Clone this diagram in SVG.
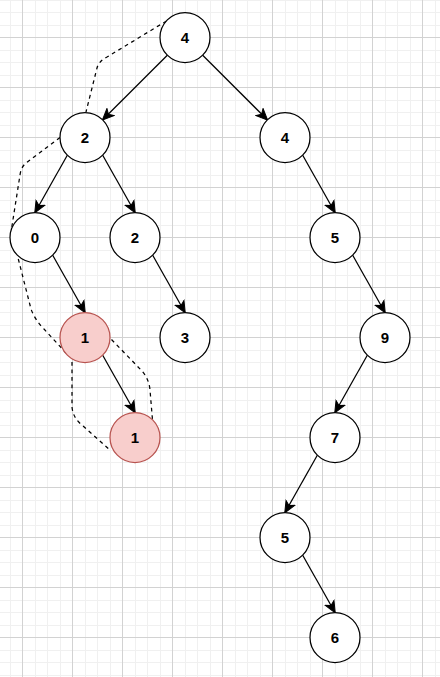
<svg xmlns="http://www.w3.org/2000/svg" width="440" height="677" viewBox="0 0 440 677">
  <style>
    .minor { stroke: #f0f0f0; stroke-width: 1; fill: none; shape-rendering: crispEdges; }
    .major { stroke: #d2d2d2; stroke-width: 1; fill: none; shape-rendering: crispEdges; }
    .node circle { fill: #ffffff; stroke: #000000; stroke-width: 1.25; }
    .node.red circle { fill: #f8cecc; stroke: #b85450; }
    .node text { font-family: "Liberation Sans", Arial, sans-serif; font-size: 15px; font-weight: bold; fill: #000000; text-anchor: middle; }
    .edge { stroke: #000000; stroke-width: 1.25; fill: none; marker-end: url(#arrow); }
    .dash { stroke: #000000; stroke-width: 1.25; fill: none; stroke-dasharray: 3.75 3.75; }
  </style>
  <defs>
    <marker id="arrow" markerUnits="userSpaceOnUse" viewBox="-12 -6 14 12" refX="0" refY="0" markerWidth="14" markerHeight="12" orient="auto">
      <path d="M0.5,0 L-11,-5 L-8,0 L-11,5 Z" fill="#000000" stroke="#000000" stroke-width="1"/>
    </marker>
  </defs>
  <rect x="0" y="0" width="440" height="677" fill="#ffffff"/>
  <g id="grid">
    <path class="minor" d="M10,0V677M35,0V677M47.5,0V677M60,0V677M85,0V677M97.5,0V677M110,0V677M135,0V677M147.5,0V677M160,0V677M185,0V677M197.5,0V677M210,0V677M235,0V677M247.5,0V677M260,0V677M285,0V677M297.5,0V677M310,0V677M335,0V677M347.5,0V677M360,0V677M385,0V677M397.5,0V677M410,0V677M435,0V677
      M0,0H440M0,12.5H440M0,25H440M0,50H440M0,62.5H440M0,75H440M0,100H440M0,112.5H440M0,125H440M0,150H440M0,162.5H440M0,175H440M0,200H440M0,212.5H440M0,225H440M0,250H440M0,262.5H440M0,275H440M0,300H440M0,312.5H440M0,325H440M0,350H440M0,362.5H440M0,375H440M0,400H440M0,412.5H440M0,425H440M0,450H440M0,462.5H440M0,475H440M0,500H440M0,512.5H440M0,525H440M0,550H440M0,562.5H440M0,575H440M0,600H440M0,612.5H440M0,625H440M0,650H440M0,662.5H440M0,675H440"/>
    <path class="major" d="M22.5,0V677M72.5,0V677M122.5,0V677M172.5,0V677M222.5,0V677M272.5,0V677M322.5,0V677M372.5,0V677M422.5,0V677
      M0,37.5H440M0,87.5H440M0,137.5H440M0,187.5H440M0,237.5H440M0,287.5H440M0,337.5H440M0,387.5H440M0,437.5H440M0,487.5H440M0,537.5H440M0,587.5H440M0,637.5H440"/>
  </g>
  <g id="connectors">
    <path class="edge" d="M167.3,55.2 L102.7,119.8"/>
    <path class="edge" d="M202.7,55.2 L267.3,119.8"/>
    <path class="edge" d="M67.3,155.2 L35,212.5"/>
    <path class="edge" d="M102.7,155.2 L135,212.5"/>
    <path class="edge" d="M302.7,155.2 L335,212.5"/>
    <path class="edge" d="M52.7,255.2 L85,312.5"/>
    <path class="edge" d="M152.7,255.2 L185,312.5"/>
    <path class="edge" d="M352.7,255.2 L385,312.5"/>
    <path class="edge" d="M102.7,355.2 L135,412.5"/>
    <path class="edge" d="M367.3,355.2 L335,412.5"/>
    <path class="edge" d="M317.3,455.2 L285,512.5"/>
    <path class="edge" d="M302.7,555.2 L335,612.5"/>
    <path class="dash" d="M166.5,21 L107,57 Q99,61 97,68 L86,112"/>
    <path class="dash" d="M60,137.5 L26,163 Q21,167 20,175 L11.5,229"/>
    <path class="dash" d="M18.3,259 L31,309 Q35,320 44,329 L66,353"/>
    <path class="dash" d="M72,362 L72,407 Q73,418 82,425 L110,450"/>
    <path class="dash" d="M111.5,339.5 L142,371 Q149,379 150,390 L152.5,420"/>
  </g>
  <g id="n4a" class="node"><circle cx="185" cy="37.5" r="25"/><text x="185" y="42.8">4</text></g>
  <g id="n2a" class="node"><circle cx="85" cy="137.5" r="25"/><text x="85" y="142.8">2</text></g>
  <g id="n4b" class="node"><circle cx="285" cy="137.5" r="25"/><text x="285" y="142.8">4</text></g>
  <g id="n0" class="node"><circle cx="35" cy="237.5" r="25"/><text x="35" y="242.8">0</text></g>
  <g id="n2b" class="node"><circle cx="135" cy="237.5" r="25"/><text x="135" y="242.8">2</text></g>
  <g id="n5a" class="node"><circle cx="335" cy="237.5" r="25"/><text x="335" y="242.8">5</text></g>
  <g id="n1a" class="node red"><circle cx="85" cy="337.5" r="25"/><text x="85" y="342.8">1</text></g>
  <g id="n3" class="node"><circle cx="185" cy="337.5" r="25"/><text x="185" y="342.8">3</text></g>
  <g id="n9" class="node"><circle cx="385" cy="337.5" r="25"/><text x="385" y="342.8">9</text></g>
  <g id="n1b" class="node red"><circle cx="135" cy="437.5" r="25"/><text x="135" y="442.8">1</text></g>
  <g id="n7" class="node"><circle cx="335" cy="437.5" r="25"/><text x="335" y="442.8">7</text></g>
  <g id="n5b" class="node"><circle cx="285" cy="537.5" r="25"/><text x="285" y="542.8">5</text></g>
  <g id="n6" class="node"><circle cx="335" cy="637.5" r="25"/><text x="335" y="642.8">6</text></g>
</svg>
